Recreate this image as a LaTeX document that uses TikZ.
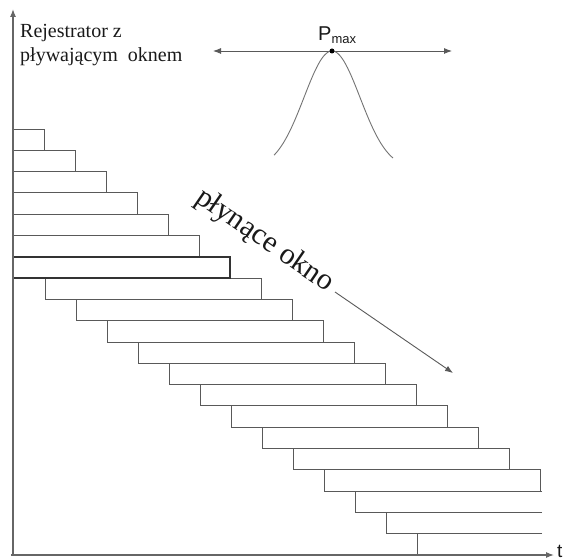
\documentclass[tikz,border=0pt]{standalone}
\usepackage{fontspec}
\setmainfont{Liberation Serif}
\setsansfont{Liberation Sans}
\usetikzlibrary{arrows.meta}
\begin{document}
\begin{tikzpicture}[x=1pt,y=-1pt,
  ln/.style={draw=black!65, line width=0.9pt},
  boldln/.style={draw=black!80, line width=1.6pt},
  curve/.style={draw=black!55, line width=0.9pt},
  axisln/.style={draw=black!60, line width=1.1pt, -{Latex[length=8pt,width=6pt]}},
  lbl/.style={inner sep=0, text=black!90},
]
\useasboundingbox (0,0) rectangle (566,559);
% windows
\foreach \k in {1,...,7}
  \draw[ln] (13,{129+21.3*(\k-1)}) rectangle ({31*\k+13},{129+21.3*\k});
\foreach \k in {8,...,17}
  \draw[ln] ({31*\k-203},{129+21.3*(\k-1)}) rectangle ({31*\k+13},{129+21.3*\k});
\foreach \k in {18,19,20}
  \draw[ln] (542,{129+21.3*(\k-1)}) -- ({31*\k-203},{129+21.3*(\k-1)}) -- ({31*\k-203},{129+21.3*\k}) -- (542,{129+21.3*\k});
\draw[boldln] (13,{129+21.3*6}) rectangle (230,{129+21.3*7});
% axes
\coordinate (O) at (13,555);
\coordinate (Oleft) at (11,555);
\coordinate (ytop) at (13,9);
\coordinate (xend) at (554,555);
\draw[axisln] (O) -- (ytop);
\draw[axisln] (Oleft) -- (xend);
\node[lbl, anchor=base west, font=\sffamily\fontsize{19}{23}\selectfont] (tl) at (557,557) {t};
% labels
\node[lbl, anchor=base west, font=\fontsize{20}{24}\selectfont] (t1) at (20,38) {Rejestrator z};
\node[lbl, anchor=base west, font=\fontsize{20}{24}\selectfont] (t2) at (20,61.5) {pływającym\ \ oknem};
% peak
\coordinate (hl) at (213,51);
\coordinate (hr) at (452,51);
\draw[ln, {Latex[length=8pt,width=6pt]}-{Latex[length=8pt,width=6pt]}] (hl) -- (hr);
\draw[curve] plot[domain=-58:61, samples=90, smooth] ({332+\x},{51+118*(1-exp(-(\x*\x)/1568))});
\node[circle, fill=black, inner sep=0, minimum size=5pt] (pk) at (332,51) {};
\node[lbl, anchor=base west, font=\sffamily\fontsize{20}{24}\selectfont] (pm) at (318,41) {P\raisebox{-3pt}{\fontsize{13}{15}\selectfont max}};
% floating window label
\node[lbl, rotate=-34.5, anchor=base west, font=\fontsize{30}{36}\selectfont] (fw) at (194,201) {płynące okno};
\coordinate (a1) at (335,292);
\coordinate (a2) at (453,373);
\draw[ln, -{Latex[length=8pt,width=6pt]}] (a1) -- (a2);
\end{tikzpicture}
\end{document}
